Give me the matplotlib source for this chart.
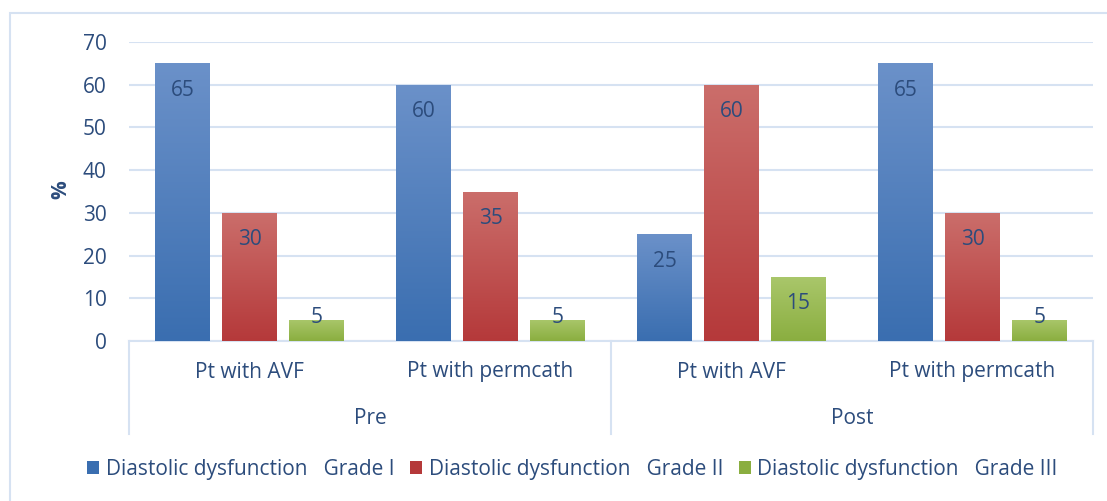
"""Diastolic dysfunction grades, pre and post, by access type."""
import numpy as np
import matplotlib
matplotlib.use('Agg')
import matplotlib.pyplot as plt
from matplotlib.colors import LinearSegmentedColormap
from matplotlib.patches import Rectangle
from matplotlib.lines import Line2D

sub_labels = ['Pt with AVF', 'Pt with permcath', 'Pt with AVF', 'Pt with permcath']
top_labels = ['Pre', 'Post']
series_names = [
    'Diastolic dysfunction   Grade I',
    'Diastolic dysfunction   Grade II',
    'Diastolic dysfunction   Grade III',
]
grade1 = [65, 60, 25, 65]
grade2 = [30, 35, 60, 30]
grade3 = [5, 5, 15, 5]
y_ticks = [0, 10, 20, 30, 40, 50, 60, 70]

TXT = '#2C4C7C'
GRID = '#D6E2F2'
FS = 15
# (top, bottom) gradient colours per series
SHADES = [
    ('#6B91C9', '#3A6EB0'),
    ('#CB6E6B', '#B5393A'),
    ('#AAC76B', '#8AAE40'),
]

plt.rcParams['font.family'] = ['Open Sans', 'DejaVu Sans']
plt.rcParams['font.size'] = FS

W, H = 1107, 501
fig = plt.figure(figsize=(W / 100, H / 100), dpi=100)

# outer chart frame
fig.patches.append(Rectangle((10 / W, -0.1), 1.2, (H - 13) / H + 0.1,
                             transform=fig.transFigure, fill=False,
                             edgecolor=GRID, lw=1.5))

x0, x1, y0, y1 = 129, 1093, 341, 42
ax = fig.add_axes([x0 / W, (H - y0) / H, (x1 - x0) / W, (y0 - y1) / H])

n = len(sub_labels)
x = np.arange(n)
bw = 0.228
step = 0.278
series = [grade1, grade2, grade3]

ax.set_xlim(-0.5, n - 0.5)
ax.set_ylim(0, 70)

for i, (vals, (c_top, c_bot)) in enumerate(zip(series, SHADES)):
    cmap = LinearSegmentedColormap.from_list('g%d' % i, [c_bot, c_top])
    pos = x + (i - 1) * step
    bars = ax.bar(pos, vals, width=bw, color=c_bot, zorder=2,
                  label=series_names[i], linewidth=0)
    for b, v in zip(bars, vals):
        grad = np.linspace(0, 1, 256).reshape(-1, 1)
        im = ax.imshow(grad, cmap=cmap, origin='lower', aspect='auto',
                       extent=(b.get_x(), b.get_x() + bw, 0, v), zorder=3)
        im.set_clip_path(b)
        ly = v - 6.3 if v >= 10 else v + 0.4
        ax.text(b.get_x() + bw / 2, ly, str(v), ha='center', va='center',
                color=TXT, fontsize=FS, zorder=4)

ax.set_xlim(-0.5, n - 0.5)
ax.set_ylim(0, 70)
ax.set_yticks(y_ticks)
ax.yaxis.grid(True, color=GRID, lw=1.5, zorder=0)
ax.tick_params(axis='y', length=0, pad=16, colors=TXT, labelsize=FS)
ax.set_xticks([])
for s in ['top', 'right', 'left']:
    ax.spines[s].set_visible(False)
ax.spines['bottom'].set_color(GRID)
ax.spines['bottom'].set_linewidth(1.5)

fig.text(61 / W, 1 - 190 / H, '%', rotation=90, ha='center', va='center',
         color=TXT, fontsize=FS, fontweight='bold')

# two-level category axis
for xi, lab in zip(x, sub_labels):
    fig.text((x0 + (xi + 0.5) * (x1 - x0) / n) / W, 1 - 372 / H, lab,
             ha='center', va='center', color=TXT)
for k, lab in enumerate(top_labels):
    fig.text((x0 + (2 * k + 1) * (x1 - x0) / n) / W, 1 - 418 / H, lab,
             ha='center', va='center', color=TXT)
for xs in [x0, (x0 + x1) / 2, x1]:
    fig.lines.append(Line2D([xs / W, xs / W], [1 - 341 / H, 1 - 434 / H],
                            transform=fig.transFigure, color=GRID, lw=1.5))

handles = [Rectangle((0, 0), 1, 1, facecolor=c_bot, edgecolor='none')
           for _, c_bot in SHADES]
fig.legend(handles, series_names, loc='center', bbox_to_anchor=(0.517, 1 - 469 / H),
           ncol=3, frameon=False, handlelength=0.6, handleheight=0.6,
           handletextpad=0.3, columnspacing=0.75, labelcolor=TXT)

fig.savefig('out.png', dpi=100)
